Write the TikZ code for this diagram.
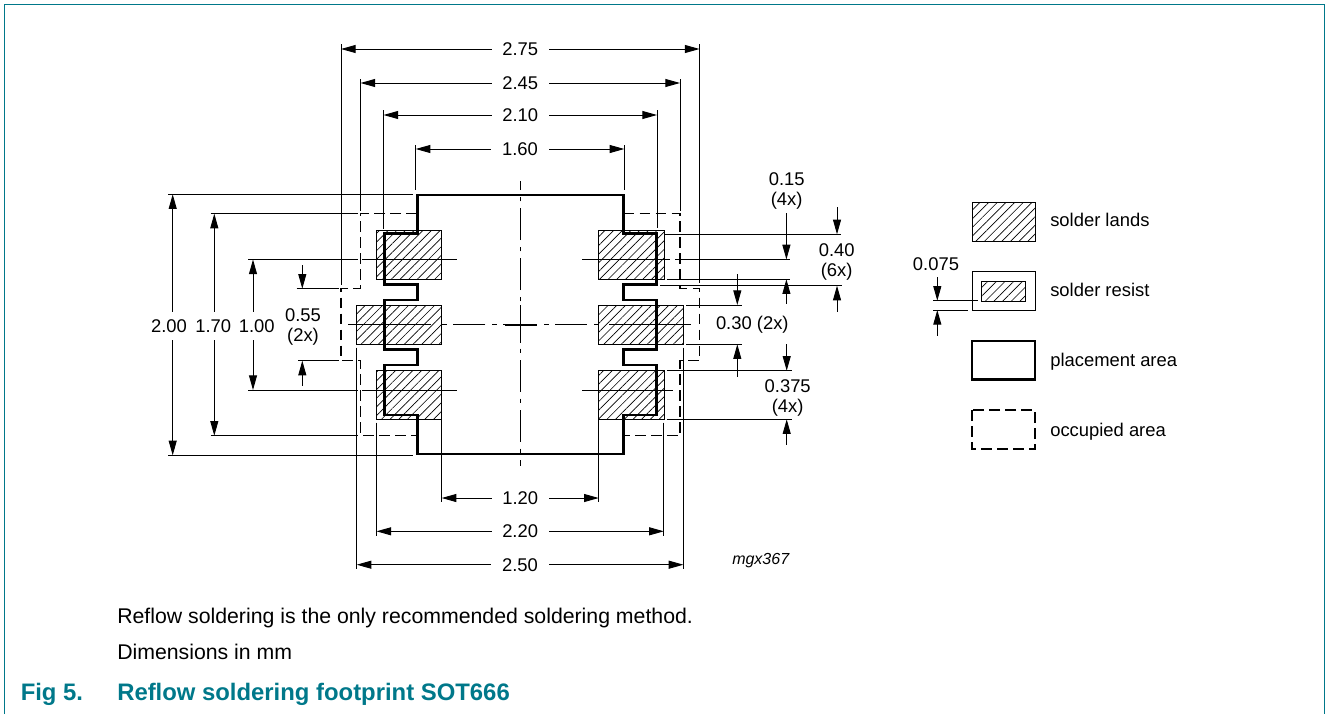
\documentclass[tikz,border=0pt]{standalone}
\usepackage{fontspec}
\setmainfont{Liberation Sans}
\usetikzlibrary{arrows.meta,patterns.meta}
\definecolor{figblue}{RGB}{0,120,138}

\begin{document}
\begin{tikzpicture}[x=0.75pt,y=-0.75pt]
	\tikzset{>={Stealth[length=11pt,width=6pt,inset=0pt]}}
	\tikzset{hair/.style={line width=0.7pt}}
	\tikzset{dim/.style={hair}}
	\tikzset{land/.style={draw,line width=0.7pt,pattern={Lines[angle=45,distance=4.6pt,line width=0.5pt]}}}
	\tikzset{placement/.style={draw,line width=2pt,line join=miter}}
	\tikzset{occupied/.style={draw,line width=0.8pt,dash pattern=on 8pt off 4pt}}
	\tikzset{centre/.style={line width=0.7pt,dash pattern=on 24pt off 5pt on 3.5pt off 5pt,dash phase=11.25pt}}
	\tikzset{label/.style={inner sep=0pt,font=\fontsize{13.8}{15}\selectfont,align=center}}
	\tikzset{gaplabel/.style={label,fill=white,inner xsep=8pt,inner ysep=1pt}}
	\tikzset{note/.style={inner sep=0pt,anchor=base west,font=\fontsize{15.95}{18}\selectfont}}
	\tikzset{caption/.style={inner sep=0pt,anchor=base west,text=figblue,font=\fontsize{17.9}{20}\selectfont\bfseries}}
	\useasboundingbox (0,0) rectangle (1326,714);
	% frame, open at the bottom
	\draw[figblue,line width=1pt] (4.5,714) -- (4.5,4.5) -- (1324.5,4.5) -- (1324.5,714);
	% solder lands
	\draw[land] (376.7,230.3) rectangle (441.7,279.2);
	\draw[land] (356.7,305.2) rectangle (441.7,344.3);
	\draw[land] (376.7,370.3) rectangle (441.7,419.2);
	\draw[land] (598.5,230.3) rectangle (664,279.2);
	\draw[land] (598.5,305.2) rectangle (683.5,344.3);
	\draw[land] (598.5,370.3) rectangle (664,419.2);
	% extension lines, top
	\path[draw,hair] (341,44) -- (341,285);
	\path[draw,hair] (699.5,44) -- (699.5,283);
	\path[draw,hair] (360.5,79) -- (360.5,211);
	\path[draw,hair] (680,79) -- (680,211);
	\path[draw,hair] (383.5,110) -- (383.5,229);
	\path[draw,hair] (657,110) -- (657,228);
	\path[draw,hair] (415.7,145) -- (415.7,190);
	\path[draw,hair] (624.3,145) -- (624.3,190);
	% extension lines, bottom
	\path[draw,hair] (441.7,419) -- (441.7,501.7);
	\path[draw,hair] (598.7,419) -- (598.7,501.7);
	\path[draw,hair] (376.5,422.7) -- (376.5,535.7);
	\path[draw,hair] (663.8,422.7) -- (663.8,535.7);
	\path[draw,hair] (356.7,347.7) -- (356.7,569.3);
	\path[draw,hair] (683.4,347.7) -- (683.4,569.3);
	% extension lines, left
	\path[draw,hair] (168,194.3) -- (412.7,194.3);
	\path[draw,hair] (168,455.3) -- (412.7,455.3);
	\path[draw,hair] (210.7,213.7) -- (358,213.7);
	\path[draw,hair] (210.7,435.7) -- (358,435.7);
	\path[draw,hair] (248,259.5) -- (358,259.5);
	\path[draw,hair] (362,259.5) -- (457,259.5);
	\path[draw,hair] (248,390) -- (358,390);
	\path[draw,hair] (362,390) -- (457,390);
	\path[draw,hair] (296.7,288.7) -- (339,288.7);
	\path[draw,hair] (298,360.7) -- (339,360.7);
	% extension lines, right
	\path[draw,hair] (582.3,259.4) -- (670,259.4);
	\path[draw,hair] (675,259.4) -- (790,259.4);
	\path[draw,hair] (582.3,390) -- (673.3,390);
	\path[draw,hair] (664,234.3) -- (840.7,234.3);
	\path[draw,hair] (660,285.7) -- (841.7,285.7);
	\path[draw,hair] (666.7,279.3) -- (790,279.3);
	\path[draw,hair] (686,305) -- (741.7,305);
	\path[draw,hair] (686,344.3) -- (741.7,344.3);
	\path[draw,hair] (666.7,370.7) -- (791.7,370.7);
	\path[draw,hair] (666.7,419.3) -- (791.7,419.3);
	% centre lines and the cross
	\draw[centre] (520.4,325) -- (520.4,181);
	\draw[centre] (520.4,325) -- (520.4,466);
	\draw[centre] (520.4,324.8) -- (440,324.8);
	\draw[centre] (520.4,324.8) -- (600,324.8);
	\path[draw,hair] (431,324.8) -- (348,324.8);
	\path[draw,hair] (609,324.8) -- (690.7,324.8);
	\draw[line width=1.1pt] (505,324.8) -- (537,324.8);
	\draw[line width=1.1pt] (520.4,305) -- (520.4,343);
	% occupied area
	\draw[occupied] (417,213.7) -- (360.4,213.7) -- (360.4,288.7) -- (341,288.7) -- (341,360.7) -- (360.4,360.7) -- (360.4,435.7) -- (417,435.7);
	\draw[occupied] (623.5,213.7) -- (680,213.7) -- (680,288.4) -- (699.6,288.4) -- (699.6,360.7) -- (680,360.7) -- (680,435.7) -- (623.5,435.7);
	% placement area
	\draw[placement] (417.3,195) -- (623.5,195) -- (623.5,233.5) -- (656.5,233.5) -- (656.5,284.5) -- (623.5,284.5) -- (623.5,300) -- (656.5,300) -- (656.5,349.5) -- (623.5,349.5) -- (623.5,365) -- (656.5,365) -- (656.5,415) -- (623.5,415) -- (623.5,454) -- (417.3,454) -- (417.3,415) -- (384.5,415) -- (384.5,365) -- (417.3,365) -- (417.3,349.5) -- (384.5,349.5) -- (384.5,300) -- (417.3,300) -- (417.3,284.5) -- (384.5,284.5) -- (384.5,233.5) -- (417.3,233.5) -- cycle;
	% horizontal dimensions
	\draw[dim,<->] (341,49) -- (699.5,49) node[gaplabel,midway] (dimA) {2.75};
	\draw[dim,<->] (360.5,83) -- (680,83) node[gaplabel,midway] (dimB) {2.45};
	\draw[dim,<->] (383.5,115) -- (657,115) node[gaplabel,midway] (dimC) {2.10};
	\draw[dim,<->] (415.7,149) -- (624.3,149) node[gaplabel,midway] (dimD) {1.60};
	\draw[dim,<->] (441.7,498) -- (598.7,498) node[gaplabel,midway] (dimE) {1.20};
	\draw[dim,<->] (376.5,531.3) -- (663.8,531.3) node[gaplabel,midway] (dimF) {2.20};
	\draw[dim,<->] (356.7,564.7) -- (683.4,564.7) node[gaplabel,midway] (dimG) {2.50};
	% vertical dimensions, left
	\draw[dim,<-] (172.7,194.3) -- (172.7,311.7);
	\draw[dim,<-] (172.7,455.3) -- (172.7,340);
	\draw[dim,<-] (214.3,213.7) -- (214.3,311.7);
	\draw[dim,<-] (214.3,435.7) -- (214.3,340);
	\draw[dim,<-] (253,259.5) -- (253,311.7);
	\draw[dim,<-] (253,390) -- (253,340);
	\draw[dim,<-] (302.3,288.7) -- (302.3,265);
	\draw[dim,<-] (302.3,360.7) -- (302.3,385.7);
	\node[label] (dimH) at (169,326) {2.00};
	\node[label] (dimI) at (213.3,326) {1.70};
	\node[label] (dimJ) at (256.7,326) {1.00};
	\node[label] (dimK) at (303,326.5) {0.55\\(2x)};
	% vertical dimensions, right
	\draw[dim,<-] (786.4,259.4) -- (786.4,212.7);
	\draw[dim,<-] (786.4,279.3) -- (786.4,304.3);
	\draw[dim,<-] (837,234.3) -- (837,206.7);
	\draw[dim,<-] (837,285.7) -- (837,311.7);
	\draw[dim,<-] (737.3,305) -- (737.3,274.3);
	\draw[dim,<-] (737.3,344.3) -- (737.3,377.3);
	\draw[dim,<-] (786.7,370.7) -- (786.7,344);
	\draw[dim,<-] (786.7,419.3) -- (786.7,445);
	\node[label] (dimL) at (786.7,191) {0.15\\(4x)};
	\node[label] (dimM) at (836.7,261.5) {0.40\\(6x)};
	\node[label] (dimN) at (752.3,325) {0.30 (2x)};
	\node[label] (dimO) at (787.7,397.5) {0.375\\(4x)};
	\node[label,font=\fontsize{12}{14}\selectfont\itshape] (code) at (760.7,561) {mgx367};
	% legend
	\draw[land] (972,202.7) rectangle (1035,241);
	\draw[hair] (972,271.7) rectangle (1035,310);
	\draw[land] (981.7,281.3) rectangle (1025.7,301);
	\draw[line width=2pt] (972,341) rectangle (1035,379.7);
	\draw[occupied] (972,410) rectangle (1035,449);
	\path[draw,hair] (933.3,300.7) -- (978,300.7);
	\path[draw,hair] (933.3,310) -- (968.3,310);
	\draw[dim,<-] (937.3,300.7) -- (937.3,276.7);
	\draw[dim,<-] (937.3,310) -- (937.3,335.7);
	\node[label] (dimP) at (936,264) {0.075};
	\node[label,anchor=base west] (lands) at (1050,226.5) {solder lands};
	\node[label,anchor=base west] (resist) at (1050,296.5) {solder resist};
	\node[label,anchor=base west] (place) at (1050,366.5) {placement area};
	\node[label,anchor=base west] (occ) at (1050,436.5) {occupied area};
	% notes and caption
	\node[note] (noteA) at (117,623) {Reflow soldering is the only recommended soldering method.};
	\node[note] (noteB) at (117,659) {Dimensions in mm};
	\node[caption] (figno) at (20.5,700) {Fig 5.};
	\node[caption] (figtitle) at (117,700) {Reflow soldering footprint SOT666};
\end{tikzpicture}
\end{document}
